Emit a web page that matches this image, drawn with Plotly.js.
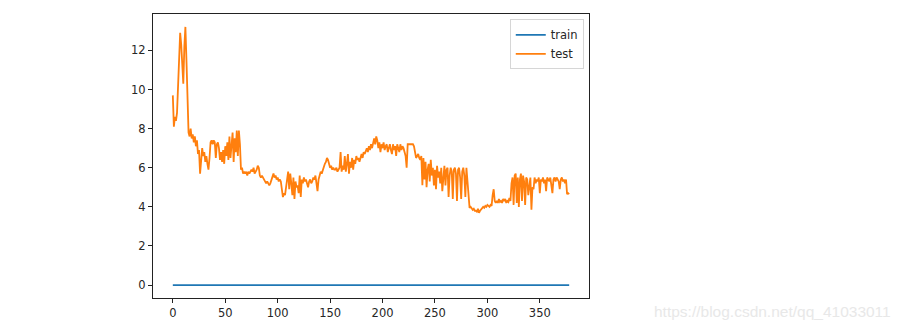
<!DOCTYPE html>
<html>
<head>
<meta charset="utf-8">
<script src="https://cdn.plot.ly/plotly-3.0.1.min.js"></script>
<style>html,body{margin:0;padding:0;background:#fff;}#chart{width:902px;height:330px;}</style>
</head>
<body>
<div id="chart"></div>
<script>
// series names
const seriesNames = ["train", "test"];

// train loss (flat at 0 for the whole run, 379 epochs)
const trainValues = [
0,0,0,0,0,0,0,0,0,0, 0,0,0,0,0,0,0,0,0,0, 0,0,0,0,0,0,0,0,0,0, 0,0,0,0,0,0,0,0,0,0,
0,0,0,0,0,0,0,0,0,0, 0,0,0,0,0,0,0,0,0,0, 0,0,0,0,0,0,0,0,0,0, 0,0,0,0,0,0,0,0,0,0,
0,0,0,0,0,0,0,0,0,0, 0,0,0,0,0,0,0,0,0,0, 0,0,0,0,0,0,0,0,0,0, 0,0,0,0,0,0,0,0,0,0,
0,0,0,0,0,0,0,0,0,0, 0,0,0,0,0,0,0,0,0,0, 0,0,0,0,0,0,0,0,0,0, 0,0,0,0,0,0,0,0,0,0,
0,0,0,0,0,0,0,0,0,0, 0,0,0,0,0,0,0,0,0,0, 0,0,0,0,0,0,0,0,0,0, 0,0,0,0,0,0,0,0,0,0,
0,0,0,0,0,0,0,0,0,0, 0,0,0,0,0,0,0,0,0,0, 0,0,0,0,0,0,0,0,0,0, 0,0,0,0,0,0,0,0,0,0,
0,0,0,0,0,0,0,0,0,0, 0,0,0,0,0,0,0,0,0,0, 0,0,0,0,0,0,0,0,0,0, 0,0,0,0,0,0,0,0,0,0,
0,0,0,0,0,0,0,0,0,0, 0,0,0,0,0,0,0,0,0,0, 0,0,0,0,0,0,0,0,0,0, 0,0,0,0,0,0,0,0,0,0,
0,0,0,0,0,0,0,0,0,0, 0,0,0,0,0,0,0,0,0,0, 0,0,0,0,0,0,0,0,0,0, 0,0,0,0,0,0,0,0,0,0,
0,0,0,0,0,0,0,0,0,0, 0,0,0,0,0,0,0,0,0
];

// test loss
const testValues = [
9.7, 8.1, 8.6, 8.4, 8.8, 10.5, 11.8, 12.9, 12.3, 11.0,
10.3, 12.2, 13.2, 11.5, 9.6, 7.8, 7.6, 8.0, 7.5, 7.7,
7.3, 7.6, 7.1, 7.4, 6.7, 6.9, 5.7, 6.4, 7.0, 6.6,
6.8, 6.3, 6.6, 6.2, 5.9, 6.5, 7.3, 7.4, 7.2, 7.4,
7.3, 6.5, 7.2, 7.3, 7.0, 6.4, 6.8, 6.3, 6.9, 6.2,
7.1, 6.6, 7.3, 6.4, 7.6, 6.5, 7.0, 7.8, 6.3, 7.5,
6.8, 7.9, 6.6, 7.9, 7.2, 5.9, 6.0, 5.7, 5.8, 5.7,
5.8, 5.6, 5.8, 5.7, 5.8, 5.9, 5.8, 6.0, 5.7, 5.8,
5.9, 6.1, 6.0, 5.6, 5.5, 5.6, 5.5, 5.4, 5.3, 5.2,
5.3, 5.2, 5.1, 5.2, 5.4, 5.6, 5.7, 5.5, 5.6, 5.4,
5.5, 5.3, 5.4, 5.3, 4.8, 4.5, 4.7, 4.6, 5.0, 5.3,
5.8, 4.9, 5.7, 5.2, 4.6, 5.5, 4.4, 5.3, 5.0, 5.1,
4.7, 5.6, 4.5, 5.4, 5.2, 5.5, 5.3, 5.4, 5.2, 5.0,
5.3, 5.4, 5.2, 5.3, 5.5, 5.4, 5.6, 5.2, 4.8, 5.4,
5.6, 5.8, 5.7, 5.9, 6.0, 6.2, 6.3, 6.5, 6.4, 6.2,
6.0, 6.1, 5.9, 6.0, 5.9, 5.9, 6.0, 5.8, 5.9, 6.0,
6.8, 5.8, 6.1, 5.9, 6.6, 5.8, 6.2, 6.7, 5.7, 6.3,
6.0, 6.5, 5.9, 6.4, 6.2, 6.6, 6.4, 6.5, 6.3, 6.6,
6.7, 6.5, 6.8, 6.7, 6.9, 7.0, 6.8, 7.1, 6.9, 7.2,
7.0, 7.3, 7.5, 7.2, 7.6, 7.4, 7.0, 7.3, 6.8, 7.2,
7.0, 7.3, 6.9, 7.1, 7.2, 6.8, 7.1, 7.2, 6.9, 6.7,
7.2, 6.9, 7.1, 6.6, 7.2, 7.0, 6.8, 7.2, 6.9, 7.1,
7.0, 6.8, 6.6, 6.0, 7.2, 7.2, 7.2, 7.2, 7.2, 7.2,
7.1, 6.7, 6.5, 6.6, 6.7, 6.5, 6.4, 6.6, 5.1, 6.5,
5.4, 6.3, 5.0, 5.9, 6.2, 5.3, 6.4, 5.6, 6.0, 5.1,
5.9, 4.9, 6.1, 5.5, 5.8, 5.2, 6.0, 4.8, 5.7, 6.1,
5.1, 5.9, 6.0, 4.5, 5.6, 6.0, 5.8, 4.4, 5.9, 6.0,
5.7, 4.3, 5.9, 6.0, 5.5, 4.4, 5.8, 6.0, 5.6, 4.5,
6.0, 5.4, 4.4, 3.95, 4.0, 3.9, 3.85, 3.9, 3.8, 3.8,
3.75, 3.9, 3.7, 3.8, 3.85, 3.9, 4.0, 3.95, 4.05, 4.0,
4.1, 4.05, 4.0, 4.1, 4.05, 4.6, 4.9, 4.3, 4.2, 4.3,
4.2, 4.4, 4.25, 4.3, 4.2, 4.4, 4.3, 4.4, 4.2, 4.3,
4.25, 4.45, 4.3, 5.2, 5.5, 4.1, 5.6, 5.7, 4.2, 5.5,
4.0, 5.4, 5.7, 4.3, 5.6, 5.3, 4.1, 5.5, 5.4, 4.6,
5.3, 5.5, 3.85, 5.0, 4.9, 5.5, 5.2, 5.4, 5.3, 5.5,
4.7, 5.4, 5.3, 5.5, 5.2, 5.4, 4.8, 5.5, 5.4, 5.3,
5.5, 5.2, 4.7, 5.4, 5.5, 5.3, 5.5, 5.4, 5.3, 4.9,
5.4, 5.5, 5.3, 5.4, 5.2, 5.4, 4.65, 4.7, 4.65
];

// tick labels
const xTickVals = [0, 50, 100, 150, 200, 250, 300, 350];
const yTickVals = [0, 2, 4, 6, 8, 10, 12];
const watermarkText = "https://blog.csdn.net/qq_41033011";

const epochsTrain = trainValues.map((_, i) => i);
const epochsTest = testValues.map((_, i) => i);

const traces = [
  { x: epochsTrain, y: trainValues, name: seriesNames[0], type: "scatter", mode: "lines",
    line: { color: "#1f77b4", width: 1.8 } },
  { x: epochsTest, y: testValues, name: seriesNames[1], type: "scatter", mode: "lines",
    line: { color: "#ff7f0e", width: 1.8 } }
];

const axisCommon = {
  showgrid: false, zeroline: false, showline: true, mirror: true,
  linecolor: "#222", linewidth: 1, ticks: "outside", ticklen: 4, tickwidth: 1,
  tickcolor: "#222", tickfont: { family: "DejaVu Sans", size: 11.5, color: "#262626" }
};

const layout = {
  width: 902, height: 330,
  margin: { l: 153, r: 313, t: 14, b: 32, pad: 0 },
  paper_bgcolor: "#fff", plot_bgcolor: "#fff",
  showlegend: true,
  xaxis: Object.assign({}, axisCommon, { range: [-18.9, 396.9], tickvals: xTickVals }),
  yaxis: Object.assign({}, axisCommon, { range: [-0.66, 13.86], tickvals: yTickVals }),
  legend: {
    x: 0.988, y: 0.981, xanchor: "right", yanchor: "top",
    bgcolor: "rgba(255,255,255,0.8)", bordercolor: "#d6d6d6", borderwidth: 1,
    font: { family: "DejaVu Sans", size: 11.5, color: "#262626" },
    itemwidth: 30, tracegroupgap: 0
  },
  annotations: [{
    text: watermarkText, xref: "paper", yref: "paper", x: 1.697, y: -0.049,
    xanchor: "right", yanchor: "middle", showarrow: false,
    font: { family: "Liberation Sans", size: 15.5, color: "#e8e8e8" }
  }]
};

Plotly.newPlot("chart", traces, layout, { displayModeBar: false, staticPlot: true });
</script>
</body>
</html>
